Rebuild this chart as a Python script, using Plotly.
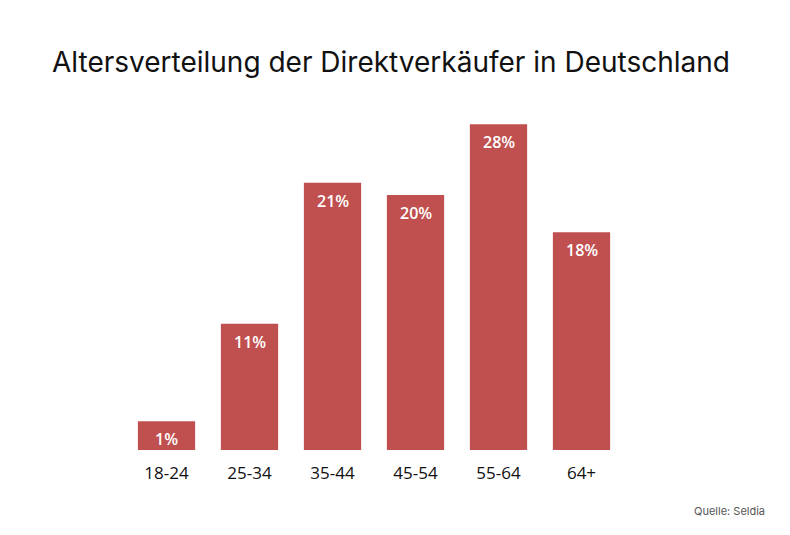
import plotly.graph_objects as go

categories = ["18-24", "25-34", "35-44", "45-54", "55-64", "64+"]
# bar lengths as drawn in the reference (in %-points of the drawn scale)
bar_values = [2.35, 10.35, 21.9, 20.9, 26.7, 17.85]
# printed labels
label_values = [1, 11, 21, 20, 28, 18]

title_text = "Altersverteilung der Direktverkäufer in Deutschland"
source_text = "Quelle: Seldia"
bar_color = "#C0504F"

fig = go.Figure()
fig.add_trace(go.Bar(
    x=categories, y=bar_values, marker=dict(color=bar_color, line=dict(width=0)),
    hoverinfo="skip",
))

for c, v, lab in zip(categories, bar_values, label_values):
    fig.add_annotation(x=c, y=v, text=f"{lab}%", showarrow=False, yanchor="top",
                       yshift=-5, font=dict(family="Open Sans", size=16, color="white", weight=600))

fig.add_annotation(xref="paper", yref="paper", x=(767 - 125) / 498, y=(450 - 511) / 366,
                   xanchor="right", yanchor="middle", text=source_text, showarrow=False,
                   font=dict(family="Inter", size=11, color="#555555"))

fig.update_layout(
    width=790, height=535,
    margin=dict(l=125, r=167, t=84, b=85),
    paper_bgcolor="white", plot_bgcolor="white",
    bargap=0.31,
    showlegend=False,
    title=dict(text=title_text, x=52/790, xanchor="left", y=1 - 62/535, yanchor="middle",
               font=dict(family="Inter", size=28, color="#111111")),
    xaxis=dict(showgrid=False, showline=False, zeroline=False, ticks="",
               ticklabelstandoff=11,
               tickfont=dict(family="Open Sans", size=17, color="#111111")),
    yaxis=dict(visible=False, range=[0, 30]),
)

fig.write_html("out.html")
